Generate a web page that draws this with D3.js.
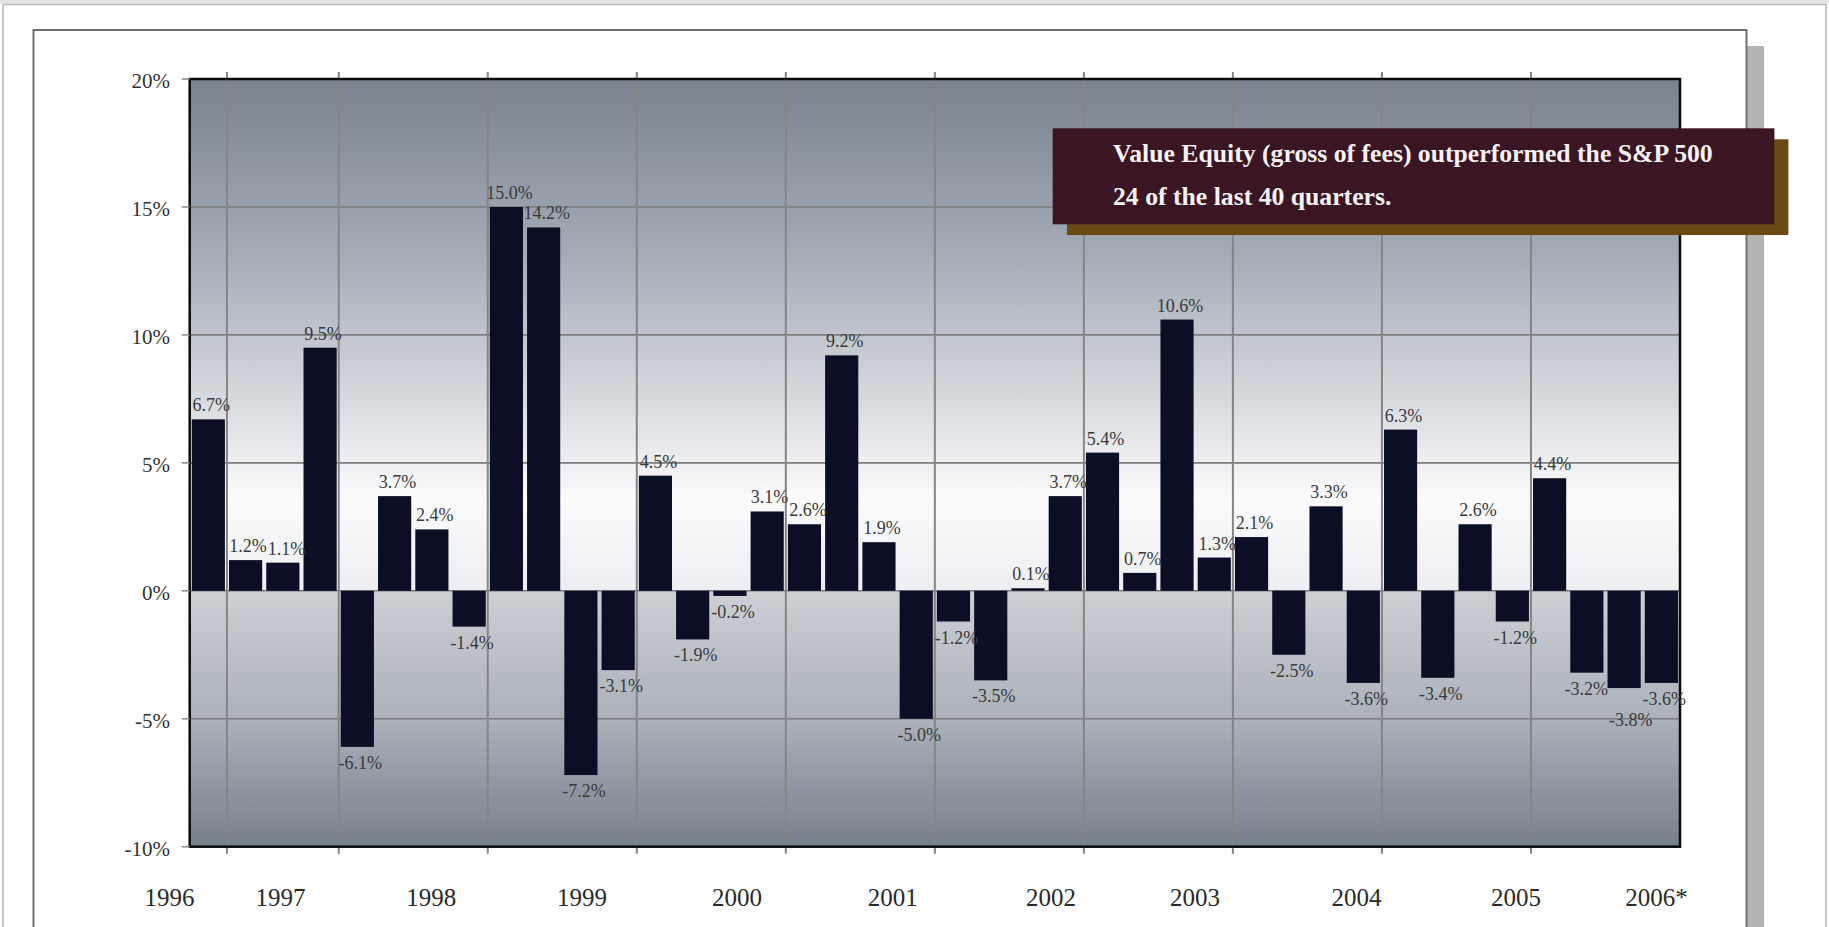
<!DOCTYPE html>
<html><head><meta charset="utf-8">
<script src="https://cdn.jsdelivr.net/npm/d3@7"></script>
<style>html,body{margin:0;padding:0;background:#fff;overflow:hidden}</style>
</head><body><svg id="c" width="1829" height="927"></svg>
<script>
// ---------- data ----------
const quarterIds = d3.range(1, 41);
const excessReturns = [6.7, 1.2, 1.1, 9.5, -6.1, 3.7, 2.4, -1.4, 15.0, 14.2,
  -7.2, -3.1, 4.5, -1.9, -0.2, 3.1, 2.6, 9.2, 1.9, -5.0,
  -1.2, -3.5, 0.1, 3.7, 5.4, 0.7, 10.6, 1.3, 2.1, -2.5,
  3.3, -3.6, 6.3, -3.4, 2.6, -1.2, 4.4, -3.2, -3.8, -3.6];
const yTicks = [20, 15, 10, 5, 0, -5, -10];
const yearLabels = ["1996", "1997", "1998", "1999", "2000", "2001", "2002", "2003", "2004", "2005", "2006*"];
const yearLabelAt = [-0.54, 2.44, 6.48, 10.53, 14.69, 18.87, 23.12, 26.98, 31.32, 35.6, 39.37]; // in quarter units
const gridAfterQuarter = [1, 4, 8, 12, 16, 20, 24, 28, 32, 36];
const calloutLines = ["Value Equity (gross of fees) outperformed the S&P 500", "24 of the last 40 quarters."];

// ---------- layout ----------
const W = 1829, H = 927;
const P = {left: 189.7, right: 1680, top: 79, bottom: 846.7};
const FONT = "'Liberation Serif', 'Times New Roman', serif";

const svg = d3.select("#c");

// outer frame
svg.append("rect").attr("x", 0).attr("y", 0).attr("width", W).attr("height", 4).attr("fill", "#e4e4e4");
svg.append("rect").attr("x", 3).attr("y", 4.5).attr("width", W - 6).attr("height", H + 10)
  .attr("fill", "#fff").attr("stroke", "#b8b8b8").attr("stroke-width", 1.5);
// panel shadow
svg.append("rect").attr("x", 1747).attr("y", 46).attr("width", 17).attr("height", H)
  .attr("fill", "#b3b3b3");
// panel
svg.append("rect").attr("x", 33.5).attr("y", 30).attr("width", 1713).attr("height", H)
  .attr("fill", "#fff").attr("stroke", "#6f6f6f").attr("stroke-width", 2);

// scales
const y = d3.scaleLinear().domain([-10, 20]).range([P.bottom, P.top]);
const x = d3.scaleBand().domain(quarterIds).range([P.left, P.right]).paddingInner(0.11).paddingOuter(0.055);
const q = d3.scaleLinear().domain([0, quarterIds.length]).range([P.left, P.right]);

// gradients
const defs = svg.append("defs");
const gUp = defs.append("linearGradient").attr("id", "gUp").attr("x1", 0).attr("y1", 0).attr("x2", 0).attr("y2", 1);
[[0, "#78838f"], [0.35, "#a4acb6"], [0.62, "#d5d9de"], [0.82, "#fbfbfc"], [1, "#eceef1"]]
  .forEach(([o, c]) => gUp.append("stop").attr("offset", o).attr("stop-color", c));
const gDn = defs.append("linearGradient").attr("id", "gDn").attr("x1", 0).attr("y1", 0).attr("x2", 0).attr("y2", 1);
[[0, "#cdd0d5"], [0.5, "#aab1b9"], [1, "#76808c"]]
  .forEach(([o, c]) => gDn.append("stop").attr("offset", o).attr("stop-color", c));

svg.append("rect").attr("x", P.left).attr("y", y(20)).attr("width", P.right - P.left)
  .attr("height", y(0) - y(20)).attr("fill", "url(#gUp)");
svg.append("rect").attr("x", P.left).attr("y", y(0)).attr("width", P.right - P.left)
  .attr("height", y(-10) - y(0)).attr("fill", "url(#gDn)");

// horizontal gridlines
svg.append("g").selectAll("line").data(yTicks.filter(t => t > -10 && t < 20)).join("line")
  .attr("x1", P.left).attr("x2", P.right).attr("y1", d => y(d)).attr("y2", d => y(d))
  .attr("stroke", "#7d7d7d").attr("stroke-width", 1.6);

// vertical gridlines (extend past plot as ticks)
svg.append("g").selectAll("line").data(gridAfterQuarter).join("line")
  .attr("x1", d => q(d)).attr("x2", d => q(d)).attr("y1", P.top - 7).attr("y2", P.bottom + 7)
  .attr("stroke", "#858585").attr("stroke-width", 2);

// bars
svg.append("g").selectAll("rect").data(excessReturns).join("rect")
  .attr("x", (d, i) => x(quarterIds[i]))
  .attr("width", x.bandwidth())
  .attr("y", d => y(Math.max(0, d)))
  .attr("height", d => Math.abs(y(d) - y(0)))
  .attr("fill", "#0a0f25");

// plot border
svg.append("rect").attr("x", P.left).attr("y", P.top).attr("width", P.right - P.left)
  .attr("height", P.bottom - P.top).attr("fill", "none").attr("stroke", "#0b0b0b").attr("stroke-width", 2.5);

// y axis ticks + labels
const yAxis = svg.append("g");
yAxis.selectAll("line").data(yTicks).join("line")
  .attr("x1", P.left - 8).attr("x2", P.left).attr("y1", d => y(d)).attr("y2", d => y(d))
  .attr("stroke", "#8a8a8a").attr("stroke-width", 1.5);
yAxis.selectAll("text").data(yTicks).join("text")
  .attr("x", 170).attr("y", d => y(d) + 9)
  .attr("text-anchor", "end").attr("font-family", FONT).attr("font-size", 21).attr("fill", "#333")
  .text(d => d + "%");

// year labels
svg.append("g").selectAll("text").data(yearLabels).join("text")
  .attr("x", (d, i) => q(yearLabelAt[i])).attr("y", 906)
  .attr("text-anchor", "middle").attr("font-family", FONT).attr("font-size", 25).attr("fill", "#2a2a2a")
  .text(d => d);

// data labels
const dl = svg.append("g").selectAll("text").data(excessReturns).join("text")
  .attr("x", (d, i) => x(quarterIds[i]) + x.bandwidth() / 2 + 3)
  .attr("y", d => d >= 0 ? y(d) - 8 : y(d) + 22)
  .attr("text-anchor", "middle").attr("font-family", FONT).attr("font-size", 18).attr("fill", "#3a3a3a")
  .text(d => d.toFixed(1) + "%");

// resolve collisions between neighbouring labels of the same sign
const nodes = dl.nodes();
for (let i = 0; i < nodes.length - 1; i++) {
  const a = excessReturns[i], b = excessReturns[i + 1];
  if ((a >= 0) !== (b >= 0)) continue;
  const ba = nodes[i].getBBox(), bb = nodes[i + 1].getBBox();
  const xOver = Math.min(ba.x + ba.width, bb.x + bb.width) - Math.max(ba.x, bb.x);
  const yOver = Math.min(ba.y + ba.height, bb.y + bb.height) - Math.max(ba.y, bb.y);
  if (xOver > 0 && yOver > 0) {
    if (xOver < 7) {
      // small horizontal overlap: nudge both sideways
      const na = d3.select(nodes[i]), nb = d3.select(nodes[i + 1]);
      na.attr("x", +na.attr("x") - xOver / 2 - 0.5);
      nb.attr("x", +nb.attr("x") + xOver / 2 + 0.5);
    } else {
      // the label of the larger bar moves further away from the zero line
      const k = Math.abs(a) >= Math.abs(b) ? i : i + 1;
      const n = d3.select(nodes[k]);
      const dir = excessReturns[k] >= 0 ? -1 : 1;
      n.attr("y", +n.attr("y") + dir * (yOver + 1));
    }
  }
}

// callout
svg.append("rect").attr("x", 1067).attr("y", 139.3).attr("width", 1788.4 - 1067).attr("height", 235 - 139.3)
  .attr("fill", "#6b4912");
svg.append("rect").attr("x", 1052.7).attr("y", 128.3).attr("width", 1774.4 - 1052.7).attr("height", 224.3 - 128.3)
  .attr("fill", "#3a1524");
const ct = svg.append("g").selectAll("text").data(calloutLines).join("text")
  .attr("x", 1113).attr("y", (d, i) => 161.7 + i * 43.3)
  .attr("font-family", FONT).attr("font-weight", "bold").attr("font-size", 25).attr("fill", "#f6f2f4")
  .text(d => d);
// fit first line to reference width (~600px)
const w0 = ct.nodes()[0].getComputedTextLength();
if (w0 > 0) ct.attr("font-size", 25 * 600 / w0);
</script>
</body></html>
